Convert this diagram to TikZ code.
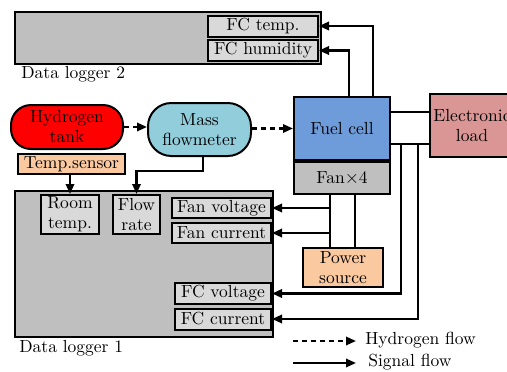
\documentclass[tikz,border=0pt]{standalone}
\usetikzlibrary{arrows.meta,calc}
\definecolor{lgray}{HTML}{BFBFBF}
\definecolor{llgray}{HTML}{D9D9D9}
\definecolor{hred}{HTML}{FF0000}
\definecolor{aqua}{HTML}{92CDDC}
\definecolor{fcblue}{HTML}{6E9CDA}
\definecolor{peach}{HTML}{FAC9A0}
\definecolor{loadred}{HTML}{D99694}
\tikzset{
  base/.style={draw=black,line width=1.2pt,inner sep=0pt,align=center,font=\fontsize{10.5}{12}\selectfont},
  logger/.style={base,fill=lgray},
  field/.style={base,fill=llgray},
  stadium/.style={base,rounded corners=12pt},
  plain/.style={base,fill=#1},
  lbl/.style={inner sep=0pt,font=\fontsize{10.5}{12}\selectfont},
  sig/.style={line width=1.3pt,-{Triangle[length=6pt,width=5pt]}},
  hyd/.style={line width=1.3pt,dash pattern=on 3pt off 2.4pt,-{Triangle[length=6pt,width=5pt]}},
  wire/.style={line width=1.3pt},
}
\begin{document}
\begin{tikzpicture}[x=0.6pt,y=-0.6pt]
\useasboundingbox (0,0) rectangle (507,372);
\clip (0,0) rectangle (507,372);
% Data logger 2
\node[logger,minimum width=306*0.6pt,minimum height=52*0.6pt] (dl2) at (168,38) {};
\node[field,minimum width=110*0.6pt,minimum height=21*0.6pt] (fct) at (263,26) {FC temp.};
\node[field,minimum width=110*0.6pt,minimum height=21*0.6pt] (fch) at (263,50.5) {FC humidity};
\node[lbl,anchor=west] (dl2l) at (21,74) {Data logger 2};
% flow chain
\node[stadium,fill=hred,minimum width=112*0.6pt,minimum height=44*0.6pt] (tank) at (67,127) {Hydrogen\\tank};
\node[stadium,fill=aqua,rounded corners=14pt,minimum width=103*0.6pt,minimum height=53*0.6pt] (flow) at (199.5,129.5) {Mass\\flowmeter};
\node[plain=peach,minimum width=107*0.6pt,minimum height=20*0.6pt] (tsens) at (71.5,164) {Temp.sensor};
\node[plain=fcblue,minimum width=96*0.6pt,minimum height=63*0.6pt] (fc) at (342,128.5) {Fuel cell};
\node[plain=lgray,minimum width=96*0.6pt,minimum height=32*0.6pt] (fan) at (342,178) {Fan$\times$4};
\node[plain=loadred,minimum width=84*0.6pt,minimum height=63*0.6pt] (eload) at (472,125.5) {Electronic\\load};
% Data logger 1
\node[logger,minimum width=258*0.6pt,minimum height=146*0.6pt] (dl1) at (144,264) {};
\node[field,minimum width=58*0.6pt,minimum height=39*0.6pt] (room) at (70,214.5) {Room\\temp.};
\node[field,minimum width=47*0.6pt,minimum height=39*0.6pt] (rate) at (136.5,214.5) {Flow\\rate};
\node[field,minimum width=99*0.6pt,minimum height=20*0.6pt] (fanv) at (221.5,208) {Fan voltage};
\node[field,minimum width=99*0.6pt,minimum height=20*0.6pt] (fani) at (221.5,233) {Fan current};
\node[field,minimum width=96*0.6pt,minimum height=21*0.6pt] (fcv) at (223,293.5) {FC voltage};
\node[field,minimum width=96*0.6pt,minimum height=21*0.6pt] (fci) at (223,319) {FC current};
\node[lbl,anchor=west] (dl1l) at (19,348) {Data logger 1};
\node[plain=peach,minimum width=80*0.6pt,minimum height=39*0.6pt] (power) at (343,267.5) {Power\\source};
% helper coordinates
\coordinate (xt) at (373,0);
\coordinate (xh) at (349,0);
\coordinate (y1) at (0,112);
\coordinate (y2) at (0,144);
\coordinate (xv) at (401,144);
\coordinate (xi) at (418,144);
\coordinate (xa) at (330,0);
\coordinate (xb) at (355,0);
\coordinate (xc) at (331,0);
\coordinate (fl) at (203,0);
\coordinate (fly) at (0,171);
% hydrogen flow
\draw[hyd] (tank.east) -- (tank.east -| flow.west);
\draw[hyd] (flow.east |- fc.west) -- (fc.west);
% signals
\draw[sig] (fc.north -| xt) |- (fct.east);
\draw[sig] (fc.north -| xh) |- (fch.east);
\draw[wire] (fc.east |- y1) -- (eload.west |- y1);
\draw[wire] (fc.east |- y2) -- (eload.west |- y2);
\draw[sig] (xv) |- (fcv.east);
\draw[sig] (xi) |- (fci.east);
\draw[wire] (fan.south -| xa) -- (power.north -| xa);
\draw[wire] (fan.south -| xb) -- (power.north -| xb);
\draw[sig] (fanv.east -| xc) -- (fanv.east);
\draw[sig] (fani.east -| xc) -- (fani.east);
\draw[sig] (tsens.south -| room.north) -- (room.north);
\draw[sig] (flow.south -| fl) -- (fl |- fly) -| (rate.north);
% legend
\coordinate (la) at (293,341);
\coordinate (lb) at (356,341);
\coordinate (lc) at (293,363);
\coordinate (ld) at (356,363);
\draw[hyd] (la) -- (lb);
\draw[sig] (lc) -- (ld);
\node[lbl,anchor=west] (lhyd) at (365,340) {Hydrogen flow};
\node[lbl,anchor=west] (lsig) at (368,362) {Signal flow};
\end{tikzpicture}
\end{document}
